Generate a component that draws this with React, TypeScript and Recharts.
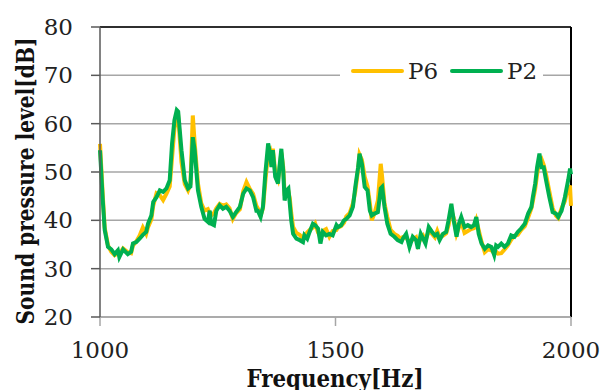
import {
  LineChart,
  Line,
  XAxis,
  YAxis,
  CartesianGrid,
  Legend,
  ReferenceLine,
} from "recharts";

const freq = [
  1000, 1006, 1010, 1017, 1024, 1031, 1038, 1041, 1049, 1059, 1066, 1070, 1077, 1084, 1091, 1098,
  1102, 1109, 1113, 1120, 1127, 1134, 1141, 1148, 1153, 1158, 1163, 1166, 1173, 1180, 1187, 1192,
  1197, 1201, 1208, 1215, 1222, 1229, 1233, 1236, 1242, 1247, 1254, 1261, 1268, 1275, 1282, 1289,
  1297, 1304, 1311, 1318, 1325, 1332, 1335, 1341, 1346, 1351, 1357, 1361, 1364, 1367, 1372, 1378,
  1381, 1385, 1389, 1392, 1396, 1400, 1403, 1406, 1410, 1417, 1424, 1431, 1434, 1440, 1445, 1452,
  1457, 1463, 1468, 1473, 1480, 1487, 1494, 1502, 1505, 1512, 1518, 1523, 1530, 1537, 1542, 1548,
  1551, 1556, 1562, 1568, 1573, 1577, 1583, 1590, 1596, 1599, 1604, 1610, 1617, 1625, 1632, 1640,
  1643, 1650, 1657, 1664, 1671, 1675, 1681, 1686, 1691, 1698, 1705, 1711, 1716, 1721, 1728, 1735,
  1740, 1746, 1751, 1757, 1762, 1767, 1774, 1781, 1788, 1794, 1799, 1804, 1810, 1817, 1824, 1831,
  1837, 1841, 1845, 1852, 1859, 1866, 1873, 1880, 1887, 1894, 1902, 1909, 1916, 1919, 1924, 1928,
  1933, 1937, 1942, 1947, 1954, 1961, 1968, 1973, 1980, 1987, 1994, 1998, 2000,
];

const p2 = [
  54.5, 44, 38, 34.5, 34, 33, 33.8, 32.4, 34, 33, 33.5, 35.2, 35.5, 36.2, 37, 37.6,
  39.3, 41, 43.8, 44.8, 46.2, 45.9, 46.6, 48.3, 55.9, 60.7, 62.8, 62.5, 54.5, 48.3, 46.6, 47,
  57.2, 54.5, 46.2, 42.8, 40.3, 39.7, 42, 39.3, 39, 42, 43.1, 42.4, 42.8, 42, 40.7, 41.7,
  42.8, 45.5, 46.6, 46.2, 44.8, 42, 42, 40.7, 42.8, 49.7, 55.9, 53.8, 51, 54.5, 49, 47.6,
  51, 54.8, 50.3, 44.1, 46.2, 46.6, 43.4, 40, 37.2, 36.2, 35.9, 35.5, 36.9, 36.2, 37.6, 39.3,
  39, 38.3, 35.2, 37.6, 36.9, 37.2, 36.9, 39, 38.6, 39, 40, 40.3, 41, 42.8, 46.9, 51,
  53.8, 51.7, 46.9, 46.2, 42, 41, 41.4, 41.7, 46.6, 46.9, 42.8, 39.3, 37.2, 36.6, 35.9, 35.5,
  36.2, 37.2, 34.5, 36.6, 35.9, 34.1, 37.2, 36.2, 35.2, 38.6, 37.6, 36.9, 37.2, 35.9, 37.2, 37.6,
  40, 43.4, 40, 36.6, 39.3, 40.7, 38.6, 39, 38.6, 39, 40.7, 37.2, 35.2, 34.1, 34.8, 34.5,
  32.8, 34.8, 34.5, 35.2, 34.5, 35.2, 36.9, 36.6, 37.6, 38.3, 39.3, 41.4, 42.8, 44.8, 47.6, 51,
  53.8, 51, 51, 48.3, 44.8, 41.7, 41.4, 40.7, 42, 44.8, 48.3, 50.7, 49.5,
];

const p6 = [
  55.8, 45, 38.5, 34.8, 33.5, 32.8, 33.2, 33, 34.2, 33.4, 33.2, 34.8, 35.6, 36.8, 38.5, 37.2,
  38.6, 40.2, 43, 45.6, 45.2, 44.2, 45.5, 47, 53, 59, 61.2, 61.5, 52, 47.5, 46.2, 47.5,
  61.7, 56, 47.6, 43.5, 42, 42.3, 41.5, 41, 41.5, 42.5, 43.4, 43, 43.3, 42.5, 40.3, 41.5,
  42.3, 46, 47.9, 46.5, 45.5, 43, 42.5, 41, 42.5, 48, 54, 54.5, 52.5, 54.8, 50, 48.5,
  50.5, 54, 51, 45.5, 45.5, 46, 44.5, 41.5, 38.6, 37.4, 37, 36.2, 37, 37.5, 38, 38.5,
  39.3, 37.5, 36.5, 37.8, 38.2, 36.6, 37.8, 38, 38.5, 38.8, 39.5, 40.8, 41.5, 43.5, 46, 50.5,
  53.6, 52.5, 49, 47, 43.5, 40, 41.5, 44.1, 51.7, 49, 43.5, 40.7, 38, 37.2, 36.8, 36,
  36.5, 36.4, 35.5, 36, 36.5, 35, 36.2, 36.8, 35.8, 37.8, 37.2, 36.5, 37.8, 36.5, 36.8, 37.3,
  39, 42, 40.5, 37.2, 38.5, 39.8, 37.4, 37.8, 38.2, 38.4, 40, 38, 35.6, 33.4, 34, 33.8,
  33.2, 33.5, 33.1, 33.2, 34, 34.8, 36, 36.8, 37, 38, 38.8, 40.6, 42.5, 44, 46.5, 49.5,
  52.5, 52.8, 51.5, 49.5, 46, 42.5, 41, 40.5, 42.5, 44, 47, 46.9, 43,
];

const xTicks = [1000, 1500, 2000];
const yTicks = [20, 30, 40, 50, 60, 70, 80];

const data = freq.map((f, i) => ({ freq: f, p6: p6[i], p2: p2[i] }));

const SERIF = "DejaVu Serif";

function LegendBox() {
  const item = (color: string, name: string) => (
    <div style={{ display: "flex", alignItems: "center" }}>
      <span
        style={{
          display: "inline-block",
          width: 53,
          height: 4,
          borderRadius: 2,
          background: color,
          marginRight: 4,
        }}
      />
      <span style={{ fontFamily: SERIF, fontSize: 23, color: "#222", lineHeight: "26px" }}>
        {name}
      </span>
    </div>
  );
  return (
    <div
      style={{
        display: "flex",
        alignItems: "center",
        gap: 12,
        background: "#fff",
        padding: "0 6px 0 11px",
        height: 28,
      }}
    >
      {item("#FFC000", "P6")}
      {item("#00B050", "P2")}
    </div>
  );
}

export default function App() {
  return (
    <div style={{ position: "absolute", left: 0, top: 0, width: 601, height: 390, background: "#fff" }}>
      <LineChart
        width={601}
        height={390}
        data={data}
        margin={{ top: 27, right: 30, left: 0, bottom: 0 }}
      >
        <CartesianGrid vertical={false} stroke="#a6a6a6" strokeWidth={1.5} />
        <XAxis
          dataKey="freq"
          type="number"
          domain={[1000, 2000]}
          ticks={xTicks}
          height={73}
          tickSize={9}
          tickMargin={16}
          stroke="#a6a6a6"
          strokeWidth={1.5}
          tick={{ fontFamily: SERIF, fontSize: 23, fill: "#222" }}
          label={{
            content: () => (
              <text
                x={335}
                y={387}
                textAnchor="middle"
                fontFamily={SERIF}
                fontSize={25}
                fontWeight="bold"
                fill="#111"
                textLength={177}
                lengthAdjust="spacingAndGlyphs"
              >
                Frequency[Hz]
              </text>
            ),
          }}
        />
        <YAxis
          type="number"
          domain={[20, 80]}
          ticks={yTicks}
          width={100}
          tickSize={9}
          tickMargin={18}
          stroke="#595959"
          strokeWidth={1.5}
          tick={{ fontFamily: SERIF, fontSize: 23, fill: "#222" }}
          label={{
            content: () => (
              <text
                x={25}
                y={181}
                transform="rotate(-90 25 181)"
                textAnchor="middle"
                dominantBaseline="central"
                fontFamily={SERIF}
                fontSize={25}
                fontWeight="bold"
                fill="#111"
                textLength={287}
                lengthAdjust="spacingAndGlyphs"
              >
                Sound pressure level[dB]
              </text>
            ),
          }}
        />
        <ReferenceLine y={80} stroke="#000" strokeWidth={1.5} />
        <ReferenceLine x={2000} stroke="#000" strokeWidth={2} />
        <Legend
          layout="horizontal"
          verticalAlign="middle"
          align="center"
          content={() => <LegendBox />}
          wrapperStyle={{ left: 340, top: 57, width: "auto" }}
        />
        <Line
          type="linear"
          dataKey="p6"
          name="P6"
          stroke="#FFC000"
          strokeWidth={4}
          dot={false}
          isAnimationActive={false}
        />
        <Line
          type="linear"
          dataKey="p2"
          name="P2"
          stroke="#00B050"
          strokeWidth={4}
          dot={false}
          isAnimationActive={false}
        />
      </LineChart>
    </div>
  );
}
